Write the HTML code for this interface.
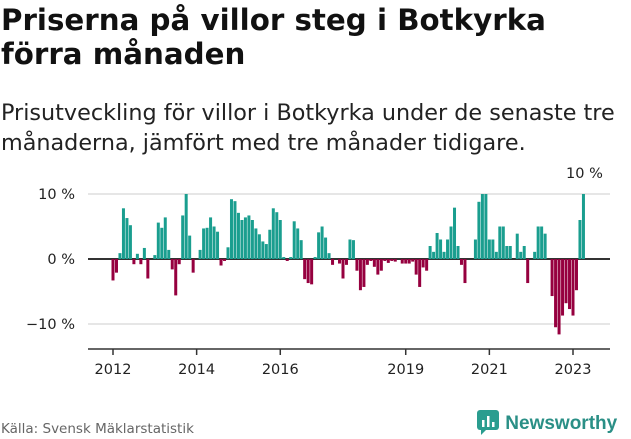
<!DOCTYPE html>
<html><head><meta charset="utf-8"><style>
body{margin:0;width:631px;height:439px;background:#fff;font-family:"DejaVu Sans","Liberation Sans",sans-serif;color:#111;overflow:hidden;position:relative}
#title{position:absolute;left:1px;top:3px;font-size:29.3px;font-weight:bold;line-height:34px;margin:0;white-space:nowrap}
#sub{position:absolute;left:1px;top:98px;font-size:22.3px;line-height:30px;color:#222;white-space:nowrap}
#src{position:absolute;left:1px;top:421px;font-size:13.5px;color:#666}
#logo{position:absolute;left:476px;top:409px;font-weight:bold;color:#2a8f86;font-family:"Liberation Sans",sans-serif;font-size:19px}
</style></head><body>
<h1 id="title">Priserna på villor steg i Botkyrka<br>förra månaden</h1>
<div id="sub">Prisutveckling för villor i Botkyrka under de senaste tre<br>månaderna, jämfört med tre månader tidigare.</div>
<svg id="chart" width="631" height="439" style="position:absolute;left:0;top:0"></svg>
<div id="src">Källa: Svensk Mäklarstatistik</div>
<div id="logo"><svg width="24" height="26" style="vertical-align:-6px"><rect x="1" y="1" width="22" height="20" rx="3" fill="#2a9d8f"/><path d="M5 21 L5 26 L10 21Z" fill="#2a9d8f"/><rect x="6" y="11" width="2.5" height="7" fill="#fff"/><rect x="11" y="7" width="2.5" height="11" fill="#fff"/><rect x="16" y="13" width="2.5" height="5" fill="#fff"/></svg> Newsworthy</div>
<script>
const values=[-3.3,-2.1,0.9,7.8,6.3,5.2,-0.8,0.8,-0.8,1.7,-3.0,0,0.6,5.6,4.8,6.4,1.4,-1.6,-5.6,-0.8,6.7,10,3.6,-2.1,0,1.4,4.7,4.8,6.4,5.0,4.2,-1.0,-0.3,1.8,9.2,8.9,7.1,6.0,6.4,6.7,6.0,4.7,3.8,2.7,2.3,4.5,7.8,7.2,6.0,
0.3,-0.3,0.3,5.8,4.7,2.9,-3.1,-3.7,-3.9,0.3,4.1,5.0,3.3,0.9,-0.9,0,-0.7,-3.0,-0.9,3.0,2.9,-1.8,-4.8,-4.3,-0.9,-0.3,-1.2,-2.4,-1.8,-0.3,-0.6,-0.3,-0.4,0,-0.7,-0.7,-0.7,-0.4,-2.4,-4.3,-1.3,-1.8,2.0,1.1,4.0,3.0,1.1,3.0,
5.0,7.9,2.0,-0.9,-3.7,0,0,3.0,8.8,10,10,3,3,1.1,5,5,2,2,0,3.9,1.1,2,-3.7,0,1.1,5,5,3.9,0,-5.7,-10.5,-11.6,-8.7,-6.8,-7.7,-8.7,-4.8,6,10];
const yTicks=[10,0,-10];
const xTickYears=[2012,2014,2016,2019,2021,2023];
const startYear=2012;
const lastLabel="10 %";
const svg=document.getElementById('chart');
const NS="http://www.w3.org/2000/svg";
const x0=113,pxMonth=(573-113)/132;
const xs=i=>x0+i*pxMonth;
const ys=v=>259-v*6.5;
function mk(t,a){const e=document.createElementNS(NS,t);for(const k in a)e.setAttribute(k,a[k]);svg.appendChild(e);return e;}
yTicks.forEach(t=>{
 const l=mk('line',{x1:88,x2:610,y1:ys(t),y2:ys(t),stroke:t===0?'#333':'#ddd','stroke-width':t===0?2:1.5});
 
 
 const tx=mk('text',{x:75,y:ys(t)+5,'text-anchor':'end','font-size':14.5,fill:'#222'});
 tx.textContent=(t<0?'−'+(-t):t)+' %';
 
 
});
values.forEach((v,i)=>{
 const y=ys(Math.max(v,0)),h=Math.abs(ys(v)-ys(0));
 const r=mk('rect',{x:xs(i)-1.5,y:v>=0?y:ys(0),width:3,height:h,fill:v>=0?'#1a9e8f':'#96003f'});
 
 
});
const ax=mk('line',{x1:88,x2:610,y1:349,y2:349,stroke:'#333','stroke-width':1.5});


xTickYears.forEach(yr=>{
 const x=xs((yr-startYear)*12);
 const t=mk('line',{x1:x,x2:x,y1:349,y2:355,stroke:'#333','stroke-width':1.5});
 
 
 const tx=mk('text',{x:x,y:374,'text-anchor':'middle','font-size':14.5,fill:'#222'});
 tx.textContent=yr;
 
 
});
const ll=mk('text',{x:xs(values.length-1)+1,y:ys(values[values.length-1])-16,'text-anchor':'middle','font-size':14.5,fill:'#222'});
ll.textContent=lastLabel;


</script>
</body></html>
